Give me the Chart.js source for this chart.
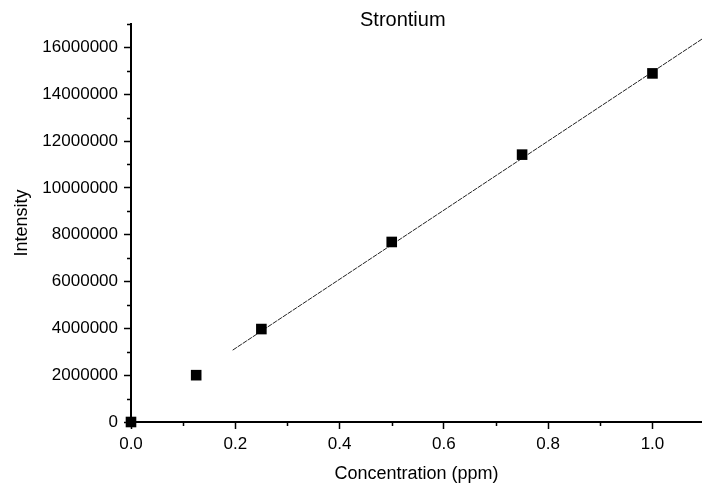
<!DOCTYPE html>
<html>
<head>
<meta charset="utf-8">
<title>Strontium</title>
<script src="https://cdn.jsdelivr.net/npm/chart.js@4"></script>
<style>
    html, body { margin: 0; padding: 0; background: #fff; }
    #wrap { width: 702px; height: 487px; }
</style>
</head>
<body>
<div id="wrap"><canvas id="calChart" width="702" height="487"></canvas></div>
<script>
// Calibration data
const chartTitle = "Strontium";
const concentration = [0, 0.125, 0.25, 0.5, 0.75, 1.0];
const intensity = [0, 2000000, 3970000, 7690000, 11420000, 14890000];

// Linear fit, drawn from where it starts in the picture to the right edge
const fitX = [0.195, 1.1];
const fitY = [3070000, 16430000];

// Axis ticks
const xTicks = [0, 0.2, 0.4, 0.6, 0.8, 1.0];
const xMinorTicks = [0.1, 0.3, 0.5, 0.7, 0.9];
const yTicks = [0, 2000000, 4000000, 6000000, 8000000, 10000000, 12000000, 14000000, 16000000];
const yMinorTicks = [1000000, 3000000, 5000000, 7000000, 9000000, 11000000, 13000000, 15000000, 17000000];

const fontFamily = '"Liberation Sans", Arial, sans-serif';

// Small outward minor ticks and the title
const extrasPlugin = {
    id: "extras",
    afterDraw(chart) {
        const ctx = chart.ctx;
        const area = chart.chartArea;
        const xs = chart.scales.x;
        const ys = chart.scales.y;

        ctx.save();
        ctx.strokeStyle = "#000";
        ctx.lineWidth = 1.5;
        ctx.beginPath();
        xMinorTicks.forEach(v => {
            const px = Math.round(xs.getPixelForValue(v)) + 0.5;
            ctx.moveTo(px, area.bottom);
            ctx.lineTo(px, area.bottom + 4);
        });
        yMinorTicks.forEach(v => {
            const py = Math.round(ys.getPixelForValue(v)) + 0.5;
            ctx.moveTo(area.left, py);
            ctx.lineTo(area.left - 4, py);
        });
        ctx.stroke();

        ctx.font = "20px " + fontFamily;
        ctx.fillStyle = "#000";
        ctx.textAlign = "center";
        ctx.textBaseline = "middle";
        ctx.fillText(chartTitle, area.left + (area.right - area.left) * 0.476, 20);
        ctx.restore();
    }
};

const calChart = new Chart(document.getElementById("calChart"), {
    type: "scatter",
    data: {
        datasets: [
            {
                label: "Standards",
                data: concentration.map((c, i) => ({ x: c, y: intensity[i] })),
                pointStyle: "rect",
                pointRadius: 7.5,
                pointHoverRadius: 7.5,
                backgroundColor: "#000",
                borderColor: "#000",
                borderWidth: 0,
                clip: false
            },
            {
                label: "Fit",
                data: fitX.map((c, i) => ({ x: c, y: fitY[i] })),
                showLine: true,
                pointRadius: 0,
                borderColor: "#222",
                borderWidth: 1,
                borderDash: [5, 1]
            }
        ]
    },
    options: {
        responsive: false,
        animation: false,
        layout: { autoPadding: false, padding: { top: 24, right: 0, bottom: 0, left: 0 } },
        plugins: {
            legend: { display: false },
            title: { display: false },
            tooltip: { enabled: false }
        },
        scales: {
            x: {
                type: "linear",
                position: "bottom",
                min: 0,
                max: 1.095,
                afterBuildTicks: s => { s.ticks = xTicks.map(v => ({ value: v })); },
                afterFit: s => {
                    s.height = 65;
                    s.paddingLeft = 0;
                    s.paddingRight = 0;
                },
                grid: { drawOnChartArea: false, tickLength: 7, tickColor: "#000", tickWidth: 1.5 },
                border: { display: true, color: "#000", width: 2 },
                ticks: {
                    color: "#000",
                    font: { family: fontFamily, size: 17 },
                    padding: 5,
                    maxRotation: 0,
                    autoSkip: false,
                    callback: v => Number(v).toFixed(1)
                },
                title: {
                    display: true,
                    text: "Concentration (ppm)",
                    color: "#000",
                    font: { family: fontFamily, size: 18 },
                    padding: { top: 0, bottom: 2 }
                }
            },
            y: {
                type: "linear",
                min: 0,
                max: 17000000,
                afterBuildTicks: s => { s.ticks = yTicks.map(v => ({ value: v })); },
                afterFit: s => { s.width = 131; },
                grid: { drawOnChartArea: false, tickLength: 7, tickColor: "#000", tickWidth: 1.5 },
                border: { display: true, color: "#000", width: 2 },
                ticks: {
                    color: "#000",
                    font: { family: fontFamily, size: 17 },
                    padding: 6,
                    autoSkip: false,
                    callback: v => String(v)
                },
                title: {
                    display: true,
                    text: "Intensity",
                    color: "#000",
                    font: { family: fontFamily, size: 18 },
                    padding: { top: 11, bottom: 0 }
                }
            }
        }
    },
    plugins: [extrasPlugin]
});
</script>
</body>
</html>
